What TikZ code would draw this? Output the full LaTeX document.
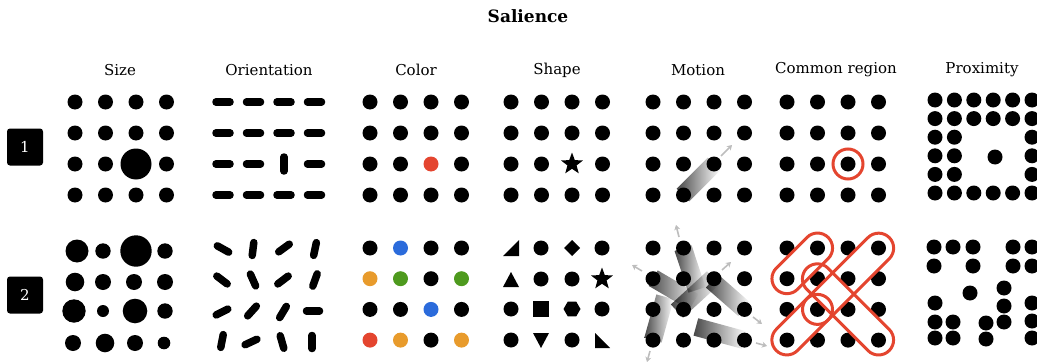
\documentclass[tikz,border=0pt]{standalone}
\usepackage{fontspec}
\setmainfont{DejaVu Serif}
\usepackage{tikz}
\usetikzlibrary{shapes.geometric, shapes.misc, arrows.meta}
\definecolor{accent}{HTML}{E4452F}
\definecolor{hlblue}{HTML}{2B6BDB}
\definecolor{hlorange}{HTML}{E89B2C}
\definecolor{hlgreen}{HTML}{4E9A1E}
\definecolor{trail}{HTML}{BDBDBD}

\begin{document}
\begin{tikzpicture}[
    x=1pt, y=-1pt,
    badge/.style={rectangle, rounded corners=3pt, fill=black, text=white, minimum width=36pt, minimum height=37pt, inner sep=0pt, font=\fontsize{15}{15}\selectfont},
    heading/.style={font=\fontsize{15}{18}\selectfont},
    bar/.style={line width=7.5pt, line cap=round},
    region/.style={draw=accent, line width=3pt, inner sep=0pt},
    band/.style={rectangle, inner sep=0pt, minimum height=18pt, left color=black!72, right color=white},
    move/.style={draw=trail, line width=1.6pt, -{Stealth[length=5pt, width=6pt]}},
    glyph/.style={fill=black, inner sep=0pt},
]
\useasboundingbox (0,0) rectangle (1037,364);

% Title and headings
\node[font=\fontsize{17}{20}\selectfont\bfseries] (title) at (528,16) {Salience};
\node[heading] (hsize) at (120,70) {Size};
\node[heading] (horient) at (269,70) {Orientation};
\node[heading] (hcolor) at (416,70) {Color};
\node[heading] (hshape) at (557,70) {Shape};
\node[heading] (hmotion) at (698,70) {Motion};
\node[heading] (hregion) at (836,70) {Common region};
\node[heading] (hprox) at (982,70) {Proximity};

% Row badges
\node[badge] (row1) at (25,147) {1};
\node[badge] (row2) at (25,295) {2};

%% ---------- row 1 ----------
% Size
\foreach \i in {0,...,3} {\foreach \j in {0,...,3} {
  \ifnum\i\j=22 \else \fill (75+30.5*\i,102+31*\j) circle[radius=7.5pt]; \fi
}}
\fill (136,164) circle[radius=15.5pt];

% Orientation
\foreach \i in {0,...,3} {\foreach \j in {0,...,3} {
  \ifnum\i\j=22 \else \draw[bar] (223+30.5*\i,102+31*\j) +(-7,0) -- +(7,0); \fi
}}
\draw[bar] (284,164) +(0,-7) -- +(0,7);

% Color
\foreach \i in {0,...,3} {\foreach \j in {0,...,3} {
  \ifnum\i\j=22 \else \fill (370+30.5*\i,102+31*\j) circle[radius=7.5pt]; \fi
}}
\fill[accent] (431,164) circle[radius=7.5pt];

% Shape
\foreach \i in {0,...,3} {\foreach \j in {0,...,3} {
  \ifnum\i\j=22 \else \fill (511+30.5*\i,102+31*\j) circle[radius=7.5pt]; \fi
}}
\node[glyph, star, star points=5, star point ratio=2.4, minimum size=23pt] (star1) at (572,164) {};

% Motion
\begin{scope}[blend mode=multiply]
  \node[band, minimum width=44pt, rotate=45] (m0) at (698.5,179.5) {};
\end{scope}
\foreach \i in {0,...,3} {\foreach \j in {0,...,3} {
  \fill (653+30.5*\i,102+31*\j) circle[radius=7.5pt];
}}
\draw[move] (721,156) -- (732,145);

% Common region
\foreach \i in {0,...,3} {\foreach \j in {0,...,3} {
  \fill (787+30.5*\i,102+31*\j) circle[radius=7.5pt];
}}
\node[region, circle, minimum size=30pt] (ring1) at (848,164) {};

% Proximity
\foreach \i in {0,...,5} {\foreach \j in {0,1,5} {
  \fill (935+19.4*\i,100+18.6*\j) circle[radius=7.5pt];
}}
\foreach \i in {0,1,5} {\foreach \j in {2,3,4} {
  \fill (935+19.4*\i,100+18.6*\j) circle[radius=7.5pt];
}}
\fill (995,157) circle[radius=7.5pt];

%% ---------- row 2 ----------
% Size
\foreach \x/\y/\r in {77/251/11.5, 103/251/7.7, 136/251/15.7, 165/251/7.7,
                      75/282/9.3, 103/282/8, 134/282/8, 165/282/8,
                      74/311/11.7, 103/311/6, 135/311/12.3, 165/311/7.7,
                      73/343/8, 105/343/9.3, 135/343/8, 164/343/6.3}
  \fill (\x,\y) circle[radius=\r pt];

% Orientation
\foreach \x/\y/\a in {223/249/29, 253/249/-83, 284/248/-36, 315/249/-78,
                      222/280/37, 253/280/66, 283/280/-37, 315/280/-70,
                      222/312/-27, 252/311/-48, 283/312/-59, 313/311/0,
                      222/341/-79, 251/342/-25, 282/342/74, 312/342/90}
  \draw[bar] (\x,\y) +(\a:6.5) -- +({\a+180}:6.5);

% Color
\foreach \cs [count=\j from 0] in {{black,hlblue,black,black},{hlorange,hlgreen,black,hlgreen},
                                   {black,black,hlblue,black},{accent,hlorange,black,hlorange}} {
  \foreach \c [count=\i from 0] in \cs
    \fill[\c] (370+30.5*\i,248+30.7*\j) circle[radius=7.5pt];
}

% Shape
\foreach \x/\y in {541/248, 602/248, 541/279, 572/279, 511/309, 602/309, 511/340, 572/340}
  \fill (\x,\y) circle[radius=7.5pt];
\fill (503,256) -- (519,240) -- (519,256) -- cycle;
\fill (572,240) -- (580,248) -- (572,256) -- (564,248) -- cycle;
\fill (511,272) -- (519,287) -- (503,287) -- cycle;
\node[glyph, star, star points=5, star point ratio=2.4, minimum size=23pt] (star2) at (602,279) {};
\fill (533,301) rectangle (549,317);
\node[glyph, regular polygon, regular polygon sides=6, minimum size=17pt] (hex) at (572,309) {};
\fill (533,333) -- (549,333) -- (541,348) -- cycle;
\fill (595,333) -- (595,348) -- (610,348) -- cycle;

% Motion
\begin{scope}[blend mode=multiply]
  \node[band, minimum width=44pt, rotate=-71.6] (m1) at (690,269) {};
  \node[band, minimum width=47pt, rotate=-30.3] (m2) at (673.5,290) {};
  \node[band, minimum width=45pt, rotate=74.4] (m3) at (659,318.5) {};
  \node[band, minimum width=49pt, rotate=-137.5] (m4) at (695,294.5) {};
  \node[band, minimum width=43pt, rotate=138.8] (m5) at (728,295) {};
  \node[band, minimum width=50pt, rotate=164.8] (m6) at (720,333.5) {};
\end{scope}
\foreach \i in {0,...,3} {\foreach \j in {0,...,3} {
  \fill (653+30.5*\i,248+30.7*\j) circle[radius=7.5pt];
}}
\draw[move] (679,237) -- (676,225);
\draw[move] (642,271) -- (632,265);
\draw[move] (650,351) -- (647,362);
\draw[move] (722,270) -- (731,262);
\draw[move] (753,317) -- (762,324);
\draw[move] (756,343) -- (767,346);

% Common region
\foreach \i in {0,...,3} {\foreach \j in {0,...,3} {
  \fill (787+30.5*\i,248+30.7*\j) circle[radius=7.5pt];
}}
\node[region, rounded rectangle, minimum width=73.3pt, minimum height=30pt, rotate=45] (capA) at (802.25,263.35) {};
\node[region, rounded rectangle, minimum width=159.8pt, minimum height=30pt, rotate=45] (capB) at (832.75,294.05) {};
\node[region, rounded rectangle, minimum width=116.5pt, minimum height=30pt, rotate=-45] (capC) at (848,309.4) {};
\node[region, circle, minimum size=30pt] (ring2) at (817.5,309.4) {};

% Proximity
\foreach \x/\y in {934/247, 953/247, 973/247, 1013/247, 1032/247,
                   934/266, 973/266, 1013/266, 1032/266,
                   970/293, 1004/288, 935/303, 1004/306, 1032/303,
                   935/322, 953/322, 986/323, 1004/322, 1032/321,
                   935/338, 953/338, 986/339, 1032/338}
  \fill (\x,\y) circle[radius=7.5pt];

\end{tikzpicture}
\end{document}
